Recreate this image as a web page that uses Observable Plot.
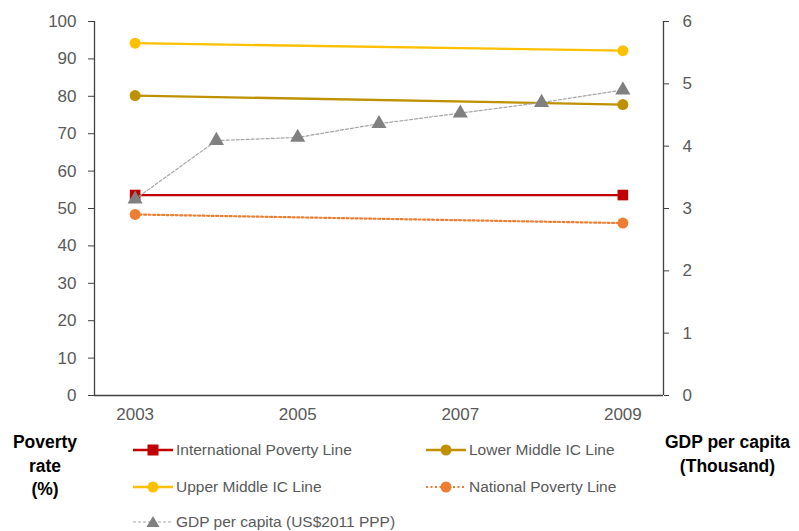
<!DOCTYPE html>
<html><head><meta charset="utf-8">
<script src="https://cdn.jsdelivr.net/npm/d3@7"></script>
<script src="https://cdn.jsdelivr.net/npm/@observablehq/plot@0.6"></script>
<style>
body{margin:0;background:#fff;}
#wrap{position:relative;width:799px;height:531px;font-family:"Liberation Sans",Arial,sans-serif;}
.lg{position:absolute;display:flex;align-items:center;font-size:15.5px;color:#595959;white-space:nowrap;}
.lg svg{margin-right:3px;}
.ttl{position:absolute;font-weight:bold;font-size:17.5px;color:#000;text-align:center;line-height:23.5px;}
</style></head>
<body><div id="wrap"></div>
<script>
const years = [2003, 2009];
const gdpYears = [2003, 2004, 2005, 2006, 2007, 2008, 2009];
const intlLine = [53.6, 53.6];
const lowerMid = [80.2, 77.8];
const upperMid = [94.2, 92.2];
const nationalLine = [48.4, 46.1];
const gdp = [3.15, 4.09, 4.14, 4.36, 4.53, 4.70, 4.90];
const xTicks = [2003, 2005, 2007, 2009];
const leftTicks = [0, 10, 20, 30, 40, 50, 60, 70, 80, 90, 100];
const rightTicks = [0, 1, 2, 3, 4, 5, 6];

const C = {intl:"#C00000", lower:"#BF9000", upper:"#FFC000", nat:"#ED7D31", gdpM:"#808080", gdpL:"#A5A5A5"};
const axisColor = "#404040";
const k = 100 / 6;
const toRows = (xs, ys) => xs.map((x, i) => ({x, y: ys[i]}));
const intlD = toRows(years, intlLine), lowD = toRows(years, lowerMid), upD = toRows(years, upperMid), natD = toRows(years, nationalLine);
const gdpD = gdpYears.map((x, i) => ({x, y: gdp[i] * k}));

const plot = Plot.plot({
  width: 799, height: 531,
  marginLeft: 94, marginRight: 136, marginTop: 21, marginBottom: 136,
  style: {fontFamily: "Liberation Sans, Arial, sans-serif", fontSize: "17px", color: "#595959", background: "#fff"},
  x: {type: "linear", domain: [2002.5, 2009.5]},
  y: {domain: [0, 100]},
  marks: [
    Plot.axisX({ticks: xTicks, tickFormat: "d", tickSize: 0, tickPadding: 12, fill: "#595959", label: null, fontSize: 17}),
    Plot.axisY({ticks: leftTicks, tickSize: 6, tickPadding: 12, stroke: axisColor, fill: "#595959", label: null, fontSize: 17}),
    Plot.axisY({anchor: "right", ticks: rightTicks.map(d => d * k), tickFormat: d => Math.round(d / k), tickSize: 5, tickPadding: 14, stroke: axisColor, fill: "#595959", label: null, fontSize: 17}),
    Plot.ruleY([0], {stroke: axisColor, strokeWidth: 1.3}),
    Plot.ruleX([2002.5], {stroke: axisColor, strokeWidth: 1.3}),
    Plot.ruleX([2009.5], {stroke: axisColor, strokeWidth: 1.3}),
    Plot.line(intlD, {x: "x", y: "y", stroke: C.intl, strokeWidth: 2.3}),
    Plot.dot(intlD, {x: "x", y: "y", symbol: "square", r: 6, fill: C.intl}),
    Plot.line(lowD, {x: "x", y: "y", stroke: C.lower, strokeWidth: 2.3}),
    Plot.dot(lowD, {x: "x", y: "y", r: 5.5, fill: C.lower}),
    Plot.line(upD, {x: "x", y: "y", stroke: C.upper, strokeWidth: 2.3}),
    Plot.dot(upD, {x: "x", y: "y", r: 5.5, fill: C.upper}),
    Plot.line(natD, {x: "x", y: "y", stroke: C.nat, strokeWidth: 2.2, strokeDasharray: "2,2.5"}),
    Plot.dot(natD, {x: "x", y: "y", r: 5.5, fill: C.nat}),
    Plot.line(gdpD, {x: "x", y: "y", stroke: C.gdpL, strokeWidth: 1.2, strokeDasharray: "3,2"}),
    Plot.dot(gdpD, {x: "x", y: "y", symbol: "triangle", r: 5.6, fill: C.gdpM})
  ]
});
const wrap = document.getElementById("wrap");
plot.style.position = "absolute"; plot.style.left = "0"; plot.style.top = "0";
wrap.appendChild(plot);

function swatch(color, mcolor, kind, dash, width) {
  let mk = "";
  if (kind === "square") mk = `<rect x="14.5" y="4.5" width="11" height="11" fill="${mcolor}"/>`;
  else if (kind === "circle") mk = `<circle cx="20" cy="10" r="5.5" fill="${mcolor}"/>`;
  else mk = `<path d="M20,4 L26.5,15 L13.5,15 Z" fill="${mcolor}"/>`;
  return `<svg width="40" height="20"><line x1="0" x2="40" y1="10" y2="10" stroke="${color}" stroke-width="${width}" ${dash ? `stroke-dasharray="${dash}"` : ""}/>${mk}</svg>`;
}
const legend = [
  {label: "International Poverty Line", color: C.intl, kind: "square", w: 2.3, left: 133, top: 440},
  {label: "Lower Middle IC Line", color: C.lower, kind: "circle", w: 2.3, left: 426, top: 440},
  {label: "Upper Middle IC Line", color: C.upper, kind: "circle", w: 2.3, left: 133, top: 477},
  {label: "National Poverty Line", color: C.nat, kind: "circle", w: 2.2, dash: "2,2.5", left: 426, top: 477},
  {label: "GDP per capita (US$2011 PPP)", color: C.gdpL, mcolor: C.gdpM, kind: "triangle", w: 1.2, dash: "3,2", left: 133, top: 512}
];
for (const l of legend) {
  const d = document.createElement("div");
  d.className = "lg";
  d.style.left = l.left + "px"; d.style.top = l.top + "px";
  d.innerHTML = swatch(l.color, l.mcolor || l.color, l.kind, l.dash, l.w) + `<span>${l.label}</span>`;
  wrap.appendChild(d);
}
const t1 = document.createElement("div");
t1.className = "ttl"; t1.style.left = "0px"; t1.style.width = "90px"; t1.style.top = "431px";
t1.innerHTML = "Poverty<br>rate<br>(%)";
wrap.appendChild(t1);
const t2 = document.createElement("div");
t2.className = "ttl"; t2.style.left = "656px"; t2.style.width = "143px"; t2.style.top = "431px";
t2.innerHTML = "GDP per capita<br>(Thousand)";
wrap.appendChild(t2);
</script></body></html>
